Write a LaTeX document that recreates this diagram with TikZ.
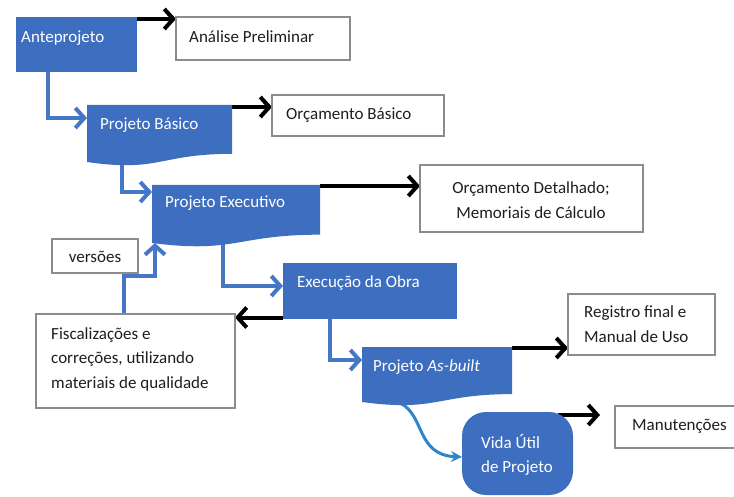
\documentclass[tikz,border=0pt]{standalone}
\usepackage{fontspec}
\setmainfont{Carlito}
\usetikzlibrary{arrows.meta,calc}
\definecolor{boxblue}{HTML}{3E6EBF}
\definecolor{lineblue}{HTML}{4577C6}
\definecolor{curveblue}{HTML}{2D86CC}
\definecolor{boxgray}{HTML}{8C8C8C}
\definecolor{txt}{HTML}{1E1E1E}
\pgfdeclarelayer{bg}
\pgfsetlayers{bg,main}
\tikzset{
  frame/.style={draw=none, fill=none, inner sep=0pt, outer sep=0pt, rectangle, anchor=north west},
  bluebox/.style={fill=boxblue, draw=none, inner sep=0pt, outer sep=0pt, rectangle, anchor=north west},
  graybox/.style={draw=boxgray, line width=2.5pt, fill=white, inner sep=0pt, outer sep=0pt, rectangle, anchor=north west},
  wtext/.style={text=white, font=\fontsize{17}{24.5}\selectfont, inner sep=0pt, anchor=west, align=left},
  dtext/.style={text=txt, font=\fontsize{17}{24.5}\selectfont, inner sep=0pt, anchor=west, align=left},
  ctext/.style={text=txt, font=\fontsize{17}{24.5}\selectfont, inner sep=0pt, align=center},
  blk/.style={draw=black, line width=4pt, -{Straight Barb[length=9pt,width=20pt]}},
  blu/.style={draw=lineblue, line width=4pt, -{Straight Barb[length=9pt,width=20pt]}},
  cblu/.style={draw=curveblue, line width=3pt, -{Stealth[length=11pt,width=11pt]}},
  docfill/.style={fill=boxblue}
}
\begin{document}
\begin{tikzpicture}[x=1pt,y=-1pt]
\useasboundingbox (0,0) rectangle (734,497);

% blue process boxes
\node[bluebox, minimum width=121pt, minimum height=55pt] (ante) at (16,17) {};
\node[frame, minimum width=145pt, minimum height=57pt] (basico) at (87,105) {};
\fill[docfill] (basico.north west) -- (basico.north east)
  -- ($(basico.north east)!0.8565!(basico.south east)$)
  .. controls ($(basico.north)!0.8565!(basico.south)$) and ($(basico.north)!1.185!(basico.south)$) .. (basico.south west) -- cycle;
\node[frame, minimum width=168pt, minimum height=58pt] (exec) at (152,185) {};
\fill[docfill] (exec.north west) -- (exec.north east)
  -- ($(exec.north east)!0.8565!(exec.south east)$)
  .. controls ($(exec.north)!0.8565!(exec.south)$) and ($(exec.north)!1.185!(exec.south)$) .. (exec.south west) -- cycle;
\node[bluebox, minimum width=174pt, minimum height=56pt] (obra) at (283,263) {};
\node[frame, minimum width=150pt, minimum height=55pt] (asb) at (362,347) {};
\fill[docfill] (asb.north west) -- (asb.north east)
  -- ($(asb.north east)!0.8565!(asb.south east)$)
  .. controls ($(asb.north)!0.8565!(asb.south)$) and ($(asb.north)!1.185!(asb.south)$) .. (asb.south west) -- cycle;
\node[bluebox, rounded corners=24pt, minimum width=111pt, minimum height=83pt] (vida) at (462,412) {};

% gray output boxes
\node[graybox, minimum width=174pt, minimum height=43pt] (anal) at (176,17) {};
\node[graybox, minimum width=172pt, minimum height=41pt] (orcb) at (272,95) {};
\node[graybox, minimum width=223pt, minimum height=67pt] (orcd) at (420,165) {};
\node[graybox, minimum width=86pt, minimum height=34pt] (versoes) at (52,239) {};
\node[graybox, minimum width=199pt, minimum height=94pt] (fisc) at (36,314) {};
\node[graybox, minimum width=147pt, minimum height=61pt] (reg) at (568,294) {};
\node[graybox, minimum width=125pt, minimum height=42pt] (manut) at (615,406) {};

% texts
\node[wtext] (anteT) at (21,38) {Anteprojeto};
\node[wtext] (basicoT) at (100,125) {Projeto Básico};
\node[wtext] (execT) at (165,203) {Projeto Executivo};
\node[wtext] (obraT) at (297,283) {Execução da Obra};
\node[wtext] (asbT) at (373,367) {Projeto \textit{As-built}};
\node[wtext] (vidaT) at (481,455) {Vida Útil\\de Projeto};
\node[dtext] (analT) at (189,37) {Análise Preliminar};
\node[dtext] (orcbT) at (286,115) {Orçamento Básico};
\node[ctext] (orcdT) at (531,200) {Orçamento Detalhado;\\Memoriais de Cálculo};
\node[ctext] (versoesT) at (95,257) {versões};
\node[dtext] (fiscT) at (51,359) {Fiscalizações e\\correções, utilizando\\materiais de qualidade};
\node[dtext] (regT) at (584,324) {Registro final e\\Manual de Uso};
\node[dtext] (manutT) at (632,426) {Manutenções};

% connectors
\begin{pgfonlayer}{bg}
\draw[blu] ([xshift=32pt,yshift=4pt]ante.south west) |- ([yshift=-13pt]basico.north west);
\draw[blu] ([xshift=35pt,yshift=6pt]basico.south west) |- ([yshift=-7pt]exec.north west);
\draw[blu] ([xshift=88pt]fisc.north west) -- ++(0,-38) -| ([xshift=3pt]exec.south west);
\draw[blu] ([xshift=71pt,yshift=6pt]exec.south west) |- ([yshift=-23pt]obra.north west);
\draw[blu] ([xshift=47pt,yshift=4pt]obra.south west) |- ([yshift=-13pt]asb.north west);
\draw[cblu] ([xshift=38pt,yshift=-1pt]asb.south west) .. controls +(25,12) and +(-46,-2) .. ([yshift=-3.5pt]vida.west);

\draw[blk] ([yshift=-2pt]ante.north east) -- ([yshift=-2pt]ante.north east -| anal.west);
\draw[blk] ([yshift=-2pt]basico.north east) -- ([yshift=-2pt]basico.north east -| orcb.west);
\draw[blk] ([yshift=-1pt]exec.north east) -- ([yshift=-1pt]exec.north east -| orcd.west);
\draw[blk] ([yshift=1.5pt]obra.south west) -- ([yshift=1.5pt]obra.south west -| fisc.east);
\draw[blk] ([yshift=-1pt]asb.north east) -- ([yshift=-1pt]asb.north east -| reg.west);
\draw[blk] ([xshift=-15pt,yshift=-3pt]vida.north east) -- ([xshift=-15pt,yshift=-3pt]vida.north east -| manut.west);
\end{pgfonlayer}
\end{tikzpicture}
\end{document}
